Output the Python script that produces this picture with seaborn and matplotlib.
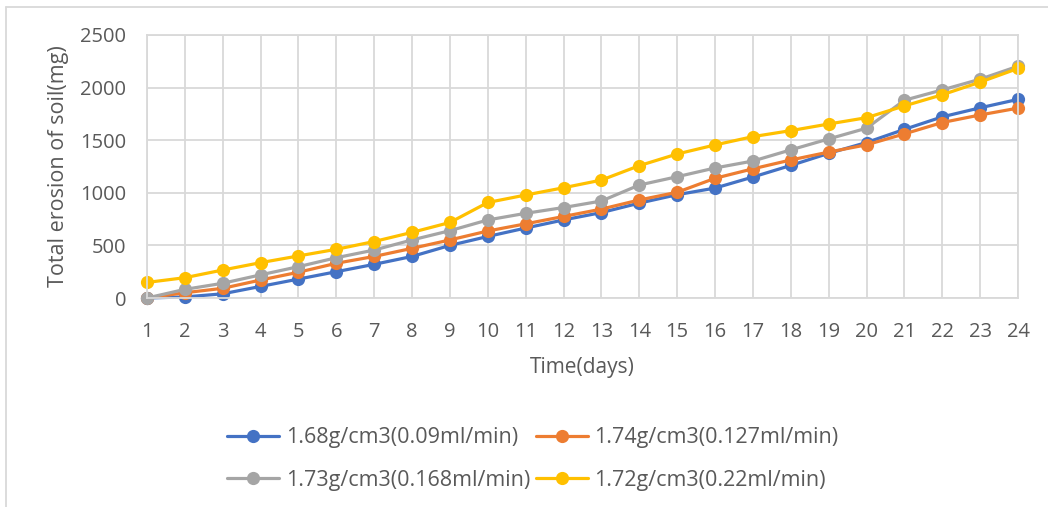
import matplotlib

matplotlib.use("Agg")
import matplotlib.pyplot as plt
import pandas as pd
import seaborn as sns

days = list(range(1, 25))
series_names = [
    "1.68g/cm3(0.09ml/min)",
    "1.74g/cm3(0.127ml/min)",
    "1.73g/cm3(0.168ml/min)",
    "1.72g/cm3(0.22ml/min)",
]
erosion_168 = [0, 10, 40, 110, 180, 250, 320, 395, 500, 585, 665, 742, 812, 902, 982,
               1045, 1150, 1260, 1375, 1478, 1603, 1722, 1808, 1888]
erosion_174 = [0, 50, 92, 171, 245, 330, 395, 472, 552, 637, 705, 775, 845, 932, 1005,
               1138, 1228, 1312, 1387, 1456, 1560, 1668, 1740, 1805]
erosion_173 = [0, 82, 140, 220, 298, 383, 456, 552, 640, 742, 805, 860, 922, 1074, 1153,
               1236, 1302, 1408, 1512, 1614, 1880, 1978, 2080, 2203]
erosion_172 = [148, 193, 266, 336, 400, 463, 537, 624, 718, 908, 979, 1048, 1121, 1258, 1369,
               1455, 1534, 1591, 1654, 1714, 1826, 1932, 2052, 2182]
colors = ["#4472C4", "#ED7D31", "#A5A5A5", "#FFC000"]

df = pd.DataFrame({
    "day": days * 4,
    "erosion": erosion_168 + erosion_174 + erosion_173 + erosion_172,
    "series": [s for s in series_names for _ in days],
})

sns.set_theme(style="whitegrid")
plt.rcParams["font.family"] = ["Open Sans", "DejaVu Sans"]
grey_txt = "#595959"
grid_col = "#D9D9D9"

fig = plt.figure(figsize=(10.48, 5.07), dpi=100)
ax = fig.add_axes([147 / 1048, 1 - 298 / 507, (1018 - 147) / 1048, (298 - 35) / 507])

sns.lineplot(data=df, x="day", y="erosion", hue="series", hue_order=series_names,
             palette=colors, marker="o", markersize=9.5, markeredgewidth=0,
             linewidth=2.3, ax=ax)
for line in ax.get_lines():
    line.set_clip_on(False)

ax.set_xlim(1, 24)
ax.set_ylim(0, 2500)
ax.set_xticks(days)
ax.set_yticks(range(0, 2501, 500))
ax.grid(True, color=grid_col, linewidth=1.3)
for side in ["top", "right", "left", "bottom"]:
    ax.spines[side].set_color(grid_col)
    ax.spines[side].set_linewidth(1.3)
ax.tick_params(axis="x", labelsize=14.5, colors=grey_txt, length=0, pad=17)
ax.tick_params(axis="y", labelsize=14.5, colors=grey_txt, length=0, pad=15)
ax.set_xlabel("Time(days)", fontsize=15, color=grey_txt, labelpad=11)
ax.set_ylabel("Total erosion of soil(mg)", fontsize=15.5, color=grey_txt, labelpad=8)

# Excel style legend, filled row by row
handles, labels = ax.get_legend_handles_labels()
order = [0, 2, 1, 3]
ax.legend([handles[i] for i in order], [labels[i] for i in order],
          loc="center", bbox_to_anchor=(533 / 1048, 1 - 459 / 507),
          bbox_transform=fig.transFigure, ncol=2, frameon=False,
          fontsize=15.5, labelcolor=grey_txt, handlelength=2.4, handletextpad=0.3,
          columnspacing=0.3, labelspacing=1.0)

fig.add_artist(plt.Line2D([6 / 1048, 6 / 1048], [0, 1 - 7 / 507], color=grid_col, linewidth=1.3))
fig.add_artist(plt.Line2D([6 / 1048, 1], [1 - 7 / 507, 1 - 7 / 507], color=grid_col, linewidth=1.3))

fig.savefig("out.png", dpi=100)
